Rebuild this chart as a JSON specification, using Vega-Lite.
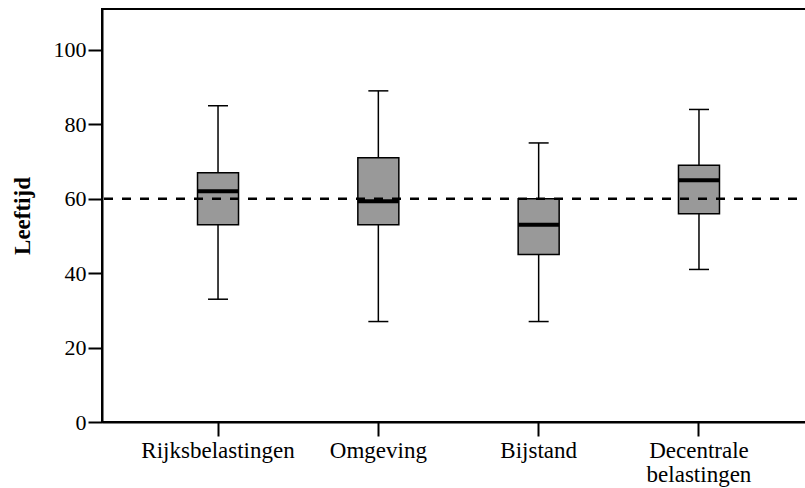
{
  "$schema": "https://vega.github.io/schema/vega-lite/v6.json",
  "autosize": {"type": "none"},
  "width": 713,
  "height": 413,
  "padding": {"left": 102, "top": 9, "right": -10, "bottom": 66},
  "background": "white",
  "config": {
    "view": {"stroke": "black", "strokeWidth": 2},
    "font": "Liberation Serif"
  },
  "data": {
    "values": [
      {"group": "Rijksbelastingen", "min": 33, "q1": 53, "median": 62, "q3": 67, "max": 85},
      {"group": "Omgeving", "min": 27, "q1": 53, "median": 59.3, "q3": 71, "max": 89},
      {"group": "Bijstand", "min": 27, "q1": 45, "median": 53, "q3": 60, "max": 75},
      {"group": "Decentrale belastingen", "min": 41, "q1": 56, "median": 65, "q3": 69, "max": 84}
    ]
  },
  "encoding": {
    "x": {
      "field": "group",
      "type": "nominal",
      "sort": null,
      "scale": {"paddingInner": 0, "paddingOuter": 0.2237},
      "axis": {
        "title": null,
        "labelAngle": 0,
        "labelFont": "Liberation Serif",
        "labelFontSize": 23,
        "labelColor": "black",
        "labelPadding": 3,
        "labelLineHeight": 24,
        "labelExpr": "datum.value == 'Decentrale belastingen' ? ['Decentrale', 'belastingen'] : datum.value",
        "domainColor": "black",
        "domainWidth": 2,
        "tickColor": "black",
        "tickWidth": 2,
        "tickSize": 14
      }
    }
  },
  "layer": [
    {
      "mark": {"type": "rule", "color": "black", "strokeWidth": 1.5},
      "encoding": {
        "y": {
          "field": "min",
          "type": "quantitative",
          "scale": {"domain": [0, 111], "nice": false, "zero": true},
          "axis": {
            "title": "Leeftijd",
            "titleFont": "Liberation Serif",
            "titleFontSize": 23,
            "titleFontWeight": "bold",
            "titleColor": "black",
            "titlePadding": 19,
            "values": [0, 20, 40, 60, 80, 100],
            "grid": false,
            "labelFont": "Liberation Serif",
            "labelFontSize": 22,
            "labelColor": "black",
            "labelPadding": 2,
            "domainColor": "black",
            "domainWidth": 2,
            "tickColor": "black",
            "tickWidth": 2,
            "tickSize": 14
          }
        },
        "y2": {"field": "max"}
      }
    },
    {
      "mark": {"type": "tick", "color": "black", "size": 20, "thickness": 1.5, "opacity": 1},
      "encoding": {"y": {"field": "min", "type": "quantitative"}}
    },
    {
      "mark": {"type": "tick", "color": "black", "size": 20, "thickness": 1.5, "opacity": 1},
      "encoding": {"y": {"field": "max", "type": "quantitative"}}
    },
    {
      "mark": {"type": "bar", "size": 41, "fill": "#999999", "stroke": "black", "strokeWidth": 1.5},
      "encoding": {
        "y": {"field": "q1", "type": "quantitative"},
        "y2": {"field": "q3"}
      }
    },
    {
      "mark": {"type": "tick", "color": "black", "size": 41, "thickness": 4, "opacity": 1},
      "encoding": {"y": {"field": "median", "type": "quantitative"}}
    },
    {
      "data": {"values": [{"ref": 60}]},
      "mark": {"type": "rule", "color": "black", "strokeWidth": 2.5, "strokeDash": [9, 9]},
      "encoding": {"y": {"field": "ref", "type": "quantitative"}, "x": null}
    }
  ]
}
